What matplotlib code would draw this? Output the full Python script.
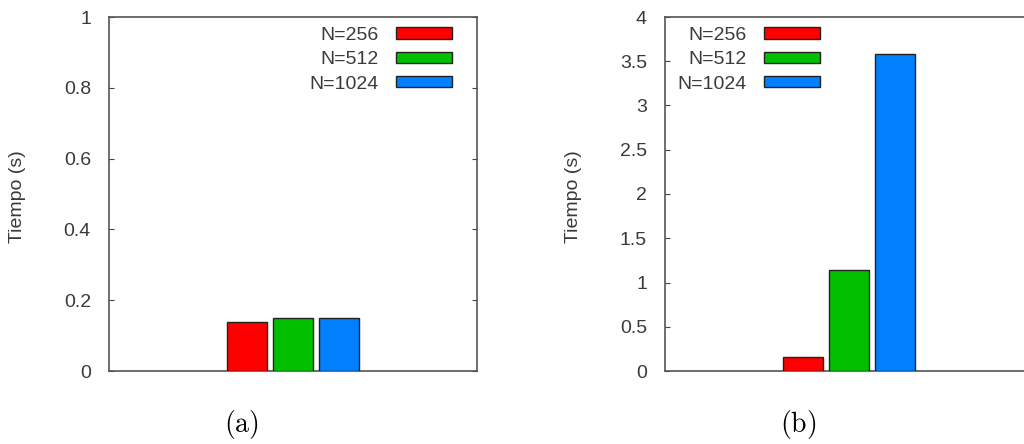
import numpy as np
import matplotlib.pyplot as plt
from matplotlib.patches import Patch

plt.rcParams['font.family'] = ['Liberation Sans', 'DejaVu Sans']
plt.rcParams['mathtext.fontset'] = 'cm'

# === Data ===
series = ['N=256', 'N=512', 'N=1024']
colors = ['#ff0000', '#00c000', '#0080ff']
times_a = [0.138, 0.149, 0.149]
times_b = [0.158, 1.14, 3.58]
yticks_a = [0, 0.2, 0.4, 0.6, 0.8, 1]
yticks_b = [0, 0.5, 1, 1.5, 2, 2.5, 3, 3.5, 4]
panel_labels = ['(a)', '(b)']

text_col = '#3a3a3a'
fs = 14

fig = plt.figure(figsize=(10.24, 4.44), dpi=100)
W, H = 1024, 444

# axes boxes in pixels: left, bottom, width, height
boxes = [(109, 444 - 371, 368, 354), (665, 444 - 371, 368, 354)]
data = [times_a, times_b]
ticks = [yticks_a, yticks_b]
legend_loc = [('upper right', 0.931), ('upper left', 0.0345)]
label_x = [241, 798]
ylabel_x = [18, 574]

for k in range(2):
    l, b, w, h = boxes[k]
    ax = fig.add_axes([l / W, b / H, w / W, h / H])
    x = np.arange(len(series)) - 1
    ax.bar(x, data[k], width=0.88, color=colors, edgecolor='#222222',
           linewidth=1.0, zorder=3)
    ax.set_xlim(-4, 4)
    ax.set_ylim(ticks[k][0], ticks[k][-1])
    ax.set_yticks(ticks[k])
    ax.set_yticklabels(['%g' % t for t in ticks[k]])
    ax.set_xticks([])
    ax.tick_params(axis='y', direction='in', length=3.5, width=0.8,
                   left=True, right=True, labelsize=fs, labelcolor=text_col,
                   color='#444444', pad=13)
    for s in ax.spines.values():
        s.set_color('#555555')
        s.set_linewidth(1.2)

    handles = [Patch(facecolor=c, edgecolor='#222222', linewidth=1.0)
               for c in colors]
    loc, ax_x = legend_loc[k]
    ax.legend(handles, series, loc=loc, bbox_to_anchor=(ax_x, 0.972),
              frameon=False, markerfirst=False, fontsize=fs,
              handlelength=2.85, handleheight=0.5, handletextpad=0.9,
              labelspacing=0.38, borderpad=0, borderaxespad=0,
              labelcolor=text_col)

    fig.text(ylabel_x[k] / W, (444 - 197) / H, 'Tiempo (s)', rotation=90,
             ha='center', va='center', fontsize=fs, color=text_col)
    fig.text(label_x[k] / W, (444 - 424) / H,
             r'$\mathrm{%s}$' % panel_labels[k], ha='center', va='center',
             fontsize=20, color='black')

fig.savefig('out.png', dpi=100)
